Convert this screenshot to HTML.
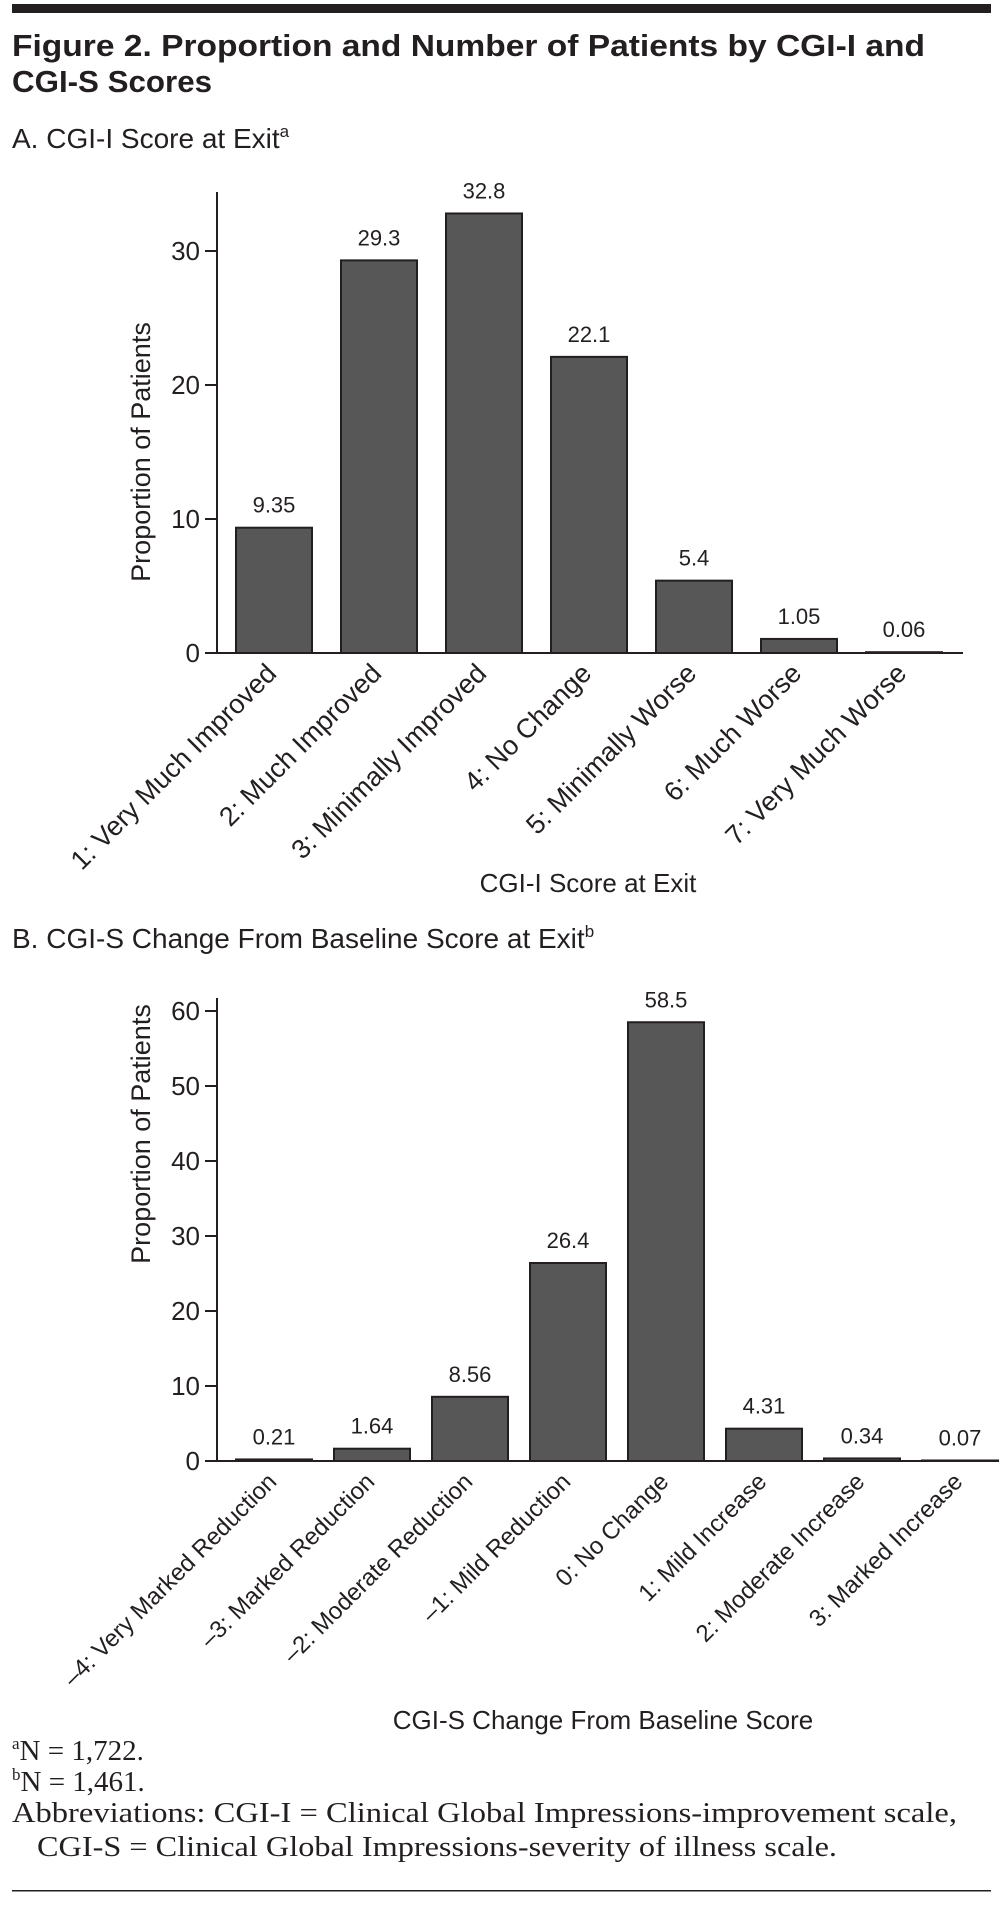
<!DOCTYPE html>
<html><head><meta charset="utf-8"><style>
html,body{margin:0;padding:0;background:#fff;}
svg{display:block;font-family:"Liberation Sans",sans-serif;}
</style></head><body>
<svg id="fig" width="1003" height="1924" viewBox="0 0 1003 1924" xmlns="http://www.w3.org/2000/svg">
<rect x="12" y="4" width="979" height="9" fill="#231f20"/>
<text x="12" y="56" font-size="31" font-weight="bold" fill="#231f20" textLength="913" lengthAdjust="spacingAndGlyphs">Figure 2. Proportion and Number of Patients by CGI-I and</text>
<text x="12" y="92" font-size="31" font-weight="bold" fill="#231f20" textLength="200" lengthAdjust="spacingAndGlyphs">CGI-S Scores</text>
<text x="12" y="148" font-size="28" fill="#231f20">A. CGI-I Score at Exit<tspan font-size="17" dy="-11">a</tspan></text>
<text x="12" y="948" font-size="28" fill="#231f20">B. CGI-S Change From Baseline Score at Exit<tspan font-size="17" dy="-11">b</tspan></text>
<g id="chartA"></g>
<g id="chartB"></g>
<g font-family="Liberation Serif, serif" font-size="29" fill="#231f20">
<text x="12" y="1760"><tspan font-size="17" dy="-11">a</tspan><tspan dy="11">N = 1,722.</tspan></text>
<text x="12" y="1791"><tspan font-size="17" dy="-11">b</tspan><tspan dy="11">N = 1,461.</tspan></text>
<text x="12" y="1822" textLength="945" lengthAdjust="spacingAndGlyphs">Abbreviations: CGI-I = Clinical Global Impressions-improvement scale,</text>
<text x="37" y="1856" textLength="800" lengthAdjust="spacingAndGlyphs">CGI-S = Clinical Global Impressions-severity of illness scale.</text>
</g>
<rect x="12" y="1890" width="979" height="1.5" fill="#231f20"/>
</svg>
<script>
const catsA = ["1: Very Much Improved","2: Much Improved","3: Minimally Improved","4: No Change","5: Minimally Worse","6:  Much Worse","7: Very Much Worse"];
const valsA = [9.35,29.3,32.8,22.1,5.4,1.05,0.06];
const labelsA = ["9.35","29.3","32.8","22.1","5.4","1.05","0.06"];
const ticksA = [0,10,20,30];
const catsB = ["\u20134: Very Marked Reduction","\u20133: Marked Reduction","\u20132: Moderate Reduction","\u20131: Mild Reduction","0: No Change","1: Mild Increase","2: Moderate Increase","3: Marked Increase"];
const valsB = [0.21,1.64,8.56,26.4,58.5,4.31,0.34,0.07];
const labelsB = ["0.21","1.64","8.56","26.4","58.5","4.31","0.34","0.07"];
const ticksB = [0,10,20,30,40,50,60];
const NS="http://www.w3.org/2000/svg";
function mk(tag, attrs, parent){const e=document.createElementNS(NS,tag);for(const k in attrs)e.setAttribute(k,attrs[k]);parent.appendChild(e);return e;}
function draw(g, cats, vals, labels, ticks, cfg){
  const y = v => cfg.base - v*cfg.perUnit;
  const x = i => cfg.first + i*cfg.step;
  const ax = mk('line',{x1:cfg.axX,y1:cfg.top,x2:cfg.axX,y2:cfg.base,stroke:'#231f20','stroke-width':2},g);
  
  
  const bx = mk('line',{x1:cfg.axX-12,y1:cfg.base,x2:cfg.axEnd,y2:cfg.base,stroke:'#231f20','stroke-width':2},g);
  
  
  ticks.forEach(t=>{
    const tl=mk('line',{x1:cfg.axX-12,y1:y(t),x2:cfg.axX,y2:y(t),stroke:'#231f20','stroke-width':2},g);
    
    
    const tx=mk('text',{x:cfg.axX-17,y:y(t)+9,'font-size':26,'text-anchor':'end',fill:'#231f20'},g);
    tx.textContent=t;
    
    
  });
  cats.forEach((c,i)=>{
    const cx=x(i), v=vals[i];
    const r=mk('rect',{x:cx-38,y:y(v),width:76,height:Math.max(cfg.base-y(v),0.5),fill:'#575757',stroke:'#231f20','stroke-width':2},g);
    
    
    const vl=mk('text',{x:cx,y:y(v)-15,'font-size':22,'text-anchor':'middle',fill:'#231f20'},g);
    vl.textContent=labels[i];
    
    
    const cl=mk('text',{transform:`translate(${cx+4},${cfg.base+cfg.lblOff}) rotate(-45)`,'font-size':cfg.lblSize,'text-anchor':'end',fill:'#231f20'},g);
    cl.textContent=c;
    
    
  });
  const yt=mk('text',{transform:`translate(${cfg.ytX},${cfg.ytY}) rotate(-90)`,'font-size':27,'text-anchor':'middle',fill:'#231f20'},g);
  yt.textContent='Proportion of Patients';
  
  
  const xt=mk('text',{x:cfg.xtX,y:cfg.xtY,'font-size':26,'text-anchor':'middle',fill:'#231f20'},g);
  xt.textContent=cfg.xTitle;
  
  
}
draw(document.getElementById('chartA'),catsA,valsA,labelsA,ticksA,{base:653,perUnit:13.4,top:192,axX:217,axEnd:963,first:274,step:105,lblOff:22,lblSize:27,ytX:150,ytY:452,xtX:588,xtY:892,xTitle:'CGI-I Score at Exit'});
draw(document.getElementById('chartB'),catsB,valsB,labelsB,ticksB,{base:1461,perUnit:7.5,top:998,axX:217,axEnd:992,first:274,step:98,lblOff:22,lblSize:24,ytX:150,ytY:1134,xtX:603,xtY:1729,xTitle:'CGI-S Change From Baseline Score'});
</script>
</body></html>
